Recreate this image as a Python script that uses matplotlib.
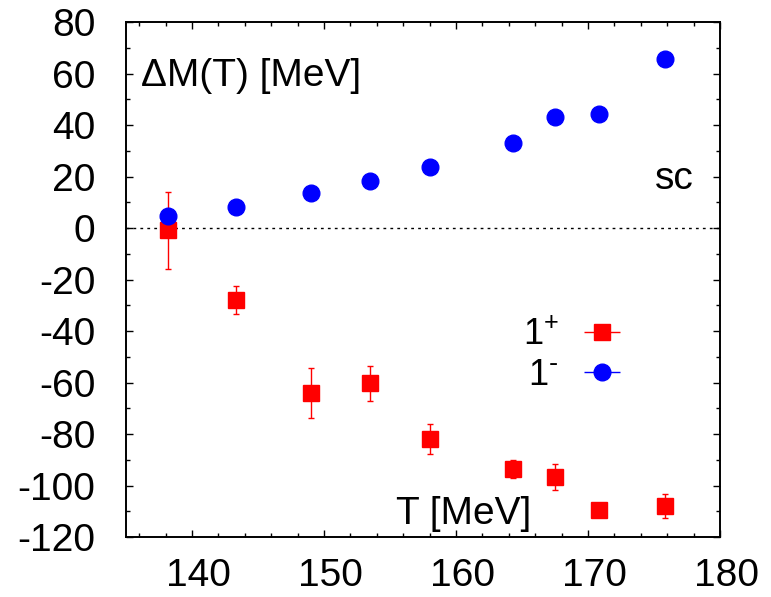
import matplotlib
matplotlib.use("Agg")
import matplotlib.pyplot as plt
import matplotlib.transforms as mtransforms
from matplotlib.ticker import MultipleLocator

plt.rcParams["font.family"] = ["Liberation Sans", "DejaVu Sans"]
plt.rcParams["mathtext.default"] = "regular"
plt.rcParams["axes.unicode_minus"] = False

# 1+ channel (red squares) with errors
t_plus = [138.2, 143.3, 149.0, 153.5, 158.0, 164.3, 167.5, 170.8, 175.8]
dm_plus = [-0.9, -28.1, -64.2, -60.3, -82.1, -93.7, -96.8, -109.6, -108.1]
err_plus = [15.0, 5.4, 9.7, 6.7, 5.8, 3.5, 5.1, 0.8, 4.7]

# 1- channel (blue circles)
t_minus = [138.2, 143.3, 149.0, 153.5, 158.0, 164.3, 167.5, 170.8, 175.8]
dm_minus = [4.8, 8.3, 13.5, 18.1, 23.6, 33.2, 43.2, 44.3, 65.5]
err_minus = [0.5, 0.5, 0.5, 0.5, 0.5, 0.5, 0.5, 0.5, 0.5]

x_ticks = [140, 150, 160, 170, 180]
y_ticks = [-120, -100, -80, -60, -40, -20, 0, 20, 40, 60, 80]

fig = plt.figure(figsize=(7.71, 5.97), dpi=100)
ax = fig.add_axes([0.1634, 0.1005, 0.7705, 0.8625])

ax.axhline(0, color="black", linewidth=1.0, linestyle=(0, (2, 3)), zorder=1)

ax.errorbar(t_plus, dm_plus, yerr=err_plus, fmt="s", color="red", ms=12,
            ecolor="red", elinewidth=1.0, capsize=2.5, capthick=1.0, zorder=3)
ax.errorbar(t_minus, dm_minus, yerr=err_minus, fmt="o", color="blue", ms=12,
            ecolor="blue", elinewidth=1.0, capsize=2.5, capthick=1.0, zorder=4)

# legend handles with horizontal bars, as in the original
h_plus = ax.errorbar([], [], xerr=[], fmt="s", color="red", ms=12, ecolor="red",
                     elinewidth=1.0, capsize=2.5, capthick=1.0)
h_minus = ax.errorbar([], [], xerr=[], fmt="o", color="blue", ms=12, ecolor="blue",
                      elinewidth=1.0, capsize=2.5, capthick=1.0)
ax.legend([h_plus, h_minus], ["1$^{+}$", "1$^{\\text{-}}$"], loc="center right",
          bbox_to_anchor=(0.860, 0.353), frameon=False, fontsize=26,
          markerfirst=False, borderpad=0, handlelength=0.95,
          handletextpad=0.72, labelspacing=0.13)

ax.set_xlim(135, 180)
ax.set_ylim(-120, 80)
ax.set_xticks(x_ticks)
ax.set_yticks(y_ticks)
ax.xaxis.set_minor_locator(MultipleLocator(2))
ax.yaxis.set_minor_locator(MultipleLocator(10))
ax.tick_params(which="both", direction="in", top=True, right=True, width=1.0,
               labelsize=28)
ax.tick_params(axis="x", which="both", pad=15)
ax.tick_params(axis="y", which="both", pad=22)
ax.tick_params(which="major", length=5)
ax.tick_params(which="minor", length=3)
for side in ax.spines.values():
    side.set_linewidth(1.4)

# x tick labels sit a little right of their ticks in the original
for lab in ax.get_xticklabels():
    lab.set_transform(lab.get_transform()
                      + mtransforms.ScaledTranslation(6 / 100, 0, fig.dpi_scale_trans))

ax.text(0.025, 0.895, "ΔM(T) [MeV]", transform=ax.transAxes, fontsize=28,
        ha="left", va="center")
ax.text(0.955, 0.695, "sc", transform=ax.transAxes, fontsize=28,
        ha="right", va="center")
ax.text(0.682, 0.045, "T [MeV]", transform=ax.transAxes, fontsize=28,
        ha="right", va="center")

fig.savefig("out.png", dpi=100)
